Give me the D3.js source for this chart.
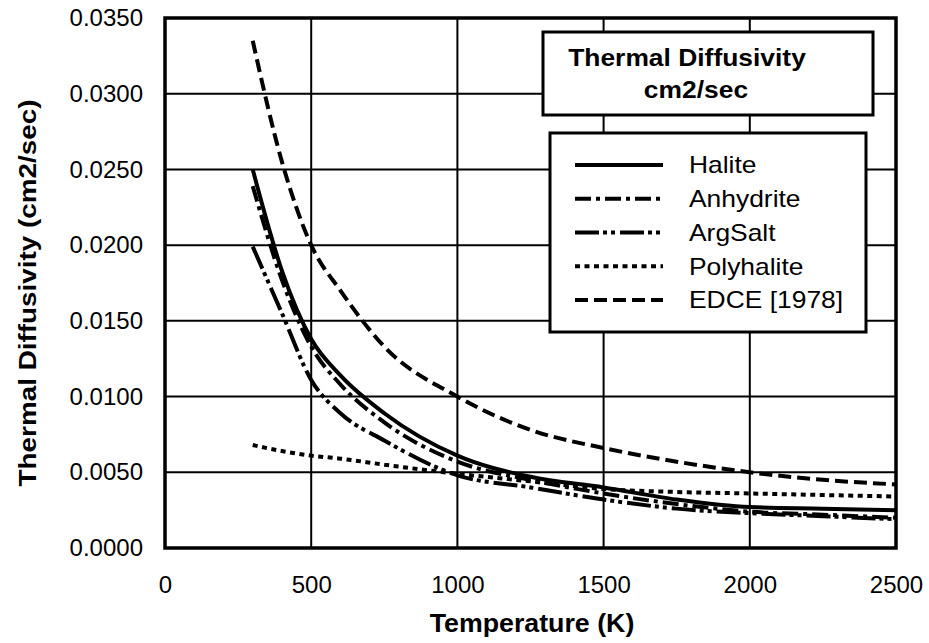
<!DOCTYPE html>
<html><head><meta charset="utf-8">
<script src="https://cdn.jsdelivr.net/npm/d3@7"></script>
<style>
html,body{margin:0;padding:0;background:#fff;}
svg text{font-family:"Liberation Sans",Arial,Helvetica,sans-serif;fill:#000;}
</style></head>
<body>
<svg id="chart" width="929" height="643"></svg>
<script>
// ---- data ----
const temps = [300, 400, 500, 600, 750, 1000, 1250, 1500, 1750, 2000, 2250, 2500];
const halite     = [0.0250, 0.0183, 0.0138, 0.0114, 0.0089, 0.0061, 0.0047, 0.0040, 0.0032, 0.0027, 0.0026, 0.0025];
const anhydrite  = [0.0239, 0.0177, 0.0133, 0.0108, 0.0083, 0.0057, 0.0045, 0.0036, 0.0029, 0.0024, 0.0022, 0.0020];
const argSalt    = [0.0199, 0.0155, 0.0111, 0.0089, 0.0071, 0.0048, 0.0040, 0.0032, 0.0026, 0.0023, 0.0021, 0.0019];
const polyhalite = [0.0068, 0.0064, 0.0061, 0.0059, 0.0055, 0.0049, 0.0044, 0.0039, 0.0037, 0.0036, 0.0035, 0.0034];
const edce       = [0.0335, 0.0255, 0.0200, 0.0170, 0.0133, 0.0100, 0.0078, 0.0066, 0.0057, 0.0050, 0.0045, 0.0042];
const seriesNames = ["Halite", "Anhydrite", "ArgSalt", "Polyhalite", "EDCE [1978]"];
const xTicks = [0, 500, 1000, 1500, 2000, 2500];
const yTicks = [0, 0.005, 0.010, 0.015, 0.020, 0.025, 0.030, 0.035];
const legendTitle = ["Thermal Diffusivity", "cm2/sec"];
const xTitle = "Temperature (K)";
const yTitle = "Thermal Diffusivity (cm2/sec)";

const seriesValues = [halite, anhydrite, argSalt, polyhalite, edce];
const dashes = [null, "16,5,4,5", "24,4,4,4,4,5", "5,4.5", "13,6"];

const svg = d3.select("#chart");
const L = 165, R = 896, T = 18, B = 548;
const x = d3.scaleLinear().domain([0, 2500]).range([L, R]);
const y = d3.scaleLinear().domain([0, 0.035]).range([B, T]);

function stretch(sel, k) {
  sel.each(function () {
    const w = this.getComputedTextLength();
    d3.select(this).attr("textLength", w * k).attr("lengthAdjust", "spacingAndGlyphs");
  });
}

// grid
const g = svg.append("g");
g.selectAll(".vg").data(xTicks.slice(1, -1)).enter().append("line")
  .attr("x1", d => x(d)).attr("x2", d => x(d)).attr("y1", T).attr("y2", B)
  .attr("stroke", "#000").attr("stroke-width", 2);
g.selectAll(".hg").data(yTicks.slice(1, -1)).enter().append("line")
  .attr("x1", L).attr("x2", R).attr("y1", d => y(d)).attr("y2", d => y(d))
  .attr("stroke", "#000").attr("stroke-width", 2);

// axes labels via d3 axes
const xAxis = d3.axisBottom(x).tickValues(xTicks).tickSize(0).tickPadding(28).tickFormat(d3.format("d"));
const xa = svg.append("g").attr("transform", `translate(0,${B})`).call(xAxis);
xa.select(".domain").remove();
xa.selectAll("text").attr("font-size", 24).attr("font-family", "Liberation Sans, Arial, sans-serif").attr("fill", "#000");

const yAxis = d3.axisLeft(y).tickValues(yTicks).tickSize(0).tickPadding(22).tickFormat(d3.format(".4f"));
const ya = svg.append("g").attr("transform", `translate(${L},0)`).call(yAxis);
ya.select(".domain").remove();
ya.selectAll("text").attr("font-size", 24).attr("font-family", "Liberation Sans, Arial, sans-serif").attr("fill", "#000");

// curves
const line = d3.line().x(d => x(d[0])).y(d => y(d[1])).curve(d3.curveMonotoneX);
seriesValues.forEach((vals, i) => {
  const pts = temps.map((t, k) => [t, vals[k]]);
  svg.append("path").datum(pts).attr("d", line)
    .attr("fill", "none").attr("stroke", "#000").attr("stroke-width", 4)
    .attr("stroke-dasharray", dashes[i]);
});

// frame
svg.append("rect").attr("x", L).attr("y", T).attr("width", R - L).attr("height", B - T)
  .attr("fill", "none").attr("stroke", "#000").attr("stroke-width", 3.5);

// legend title box
svg.append("rect").attr("x", 543).attr("y", 32).attr("width", 330).attr("height", 83)
  .attr("fill", "#fff").attr("stroke", "#000").attr("stroke-width", 3);
const t1 = svg.append("text").attr("x", 687).attr("y", 58).attr("dy", "0.35em").attr("text-anchor", "middle")
  .attr("font-size", 24).attr("font-weight", "bold").text(legendTitle[0]);
const t2 = svg.append("text").attr("x", 696).attr("y", 90).attr("dy", "0.35em").attr("text-anchor", "middle")
  .attr("font-size", 24).attr("font-weight", "bold").text(legendTitle[1]);
stretch(t1, 1.1); stretch(t2, 1.1);

// legend box
svg.append("rect").attr("x", 550).attr("y", 133).attr("width", 316).attr("height", 199)
  .attr("fill", "#fff").attr("stroke", "#000").attr("stroke-width", 3);
const rowY = d3.scalePoint().domain(seriesNames).range([165, 300]);
seriesNames.forEach((n, i) => {
  svg.append("line").attr("x1", 575).attr("x2", 663).attr("y1", rowY(n)).attr("y2", rowY(n))
    .attr("stroke", "#000").attr("stroke-width", 4).attr("stroke-dasharray", dashes[i]);
  const t = svg.append("text").attr("x", 689).attr("y", rowY(n)).attr("dy", "0.35em")
    .attr("font-size", 24).text(n);
  stretch(t, 1.1);
});

// axis titles
const xt = svg.append("text").attr("x", 532).attr("y", 623).attr("dy", "0.35em").attr("text-anchor", "middle")
  .attr("font-size", 25).attr("font-weight", "bold").text(xTitle);
stretch(xt, 1.07);
const yt = svg.append("text").attr("transform", "translate(28,293) rotate(-90)").attr("dy", "0.35em")
  .attr("text-anchor", "middle").attr("font-size", 24).attr("font-weight", "bold").text(yTitle);
stretch(yt, 1.16);
</script>
</body></html>
